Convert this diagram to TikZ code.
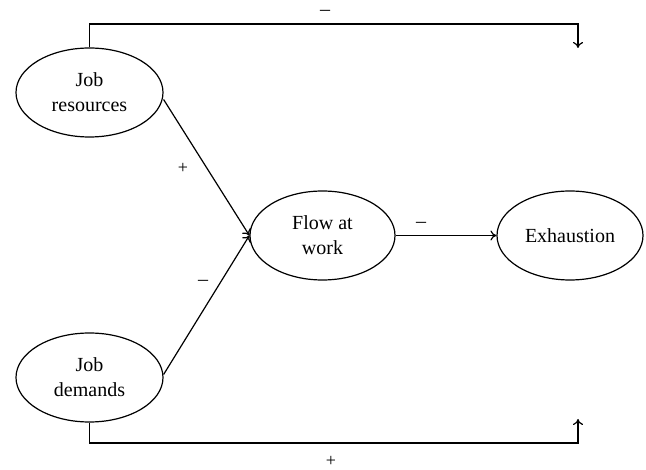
\documentclass[tikz,border=0pt]{standalone}
\usepackage{fontspec}
\setmainfont{Liberation Serif}
\usetikzlibrary{shapes.geometric,arrows.meta}
\begin{document}
\begin{tikzpicture}[x=1pt,y=-1pt,
  oval/.style={draw,ellipse,line width=1.2pt,minimum width=147pt,minimum height=89pt,inner sep=0pt,align=center,font=\fontsize{20}{25}\selectfont},
  conn/.style={line width=1.2pt},
  arr/.style={conn,-{To[length=6pt,width=10pt,line width=1.2pt]}},
  lbl/.style={inner sep=0pt,font=\fontsize{20}{20}\selectfont}]
\useasboundingbox (0,0) rectangle (646,470);
\node[oval] (jr) at (89.5,92.5) {Job\\resources};
\node[oval] (jd) at (89.5,377.5) {Job\\demands};
\node[oval,minimum width=145pt] (fw) at (322.5,235.5) {Flow at\\work};
\node[oval,minimum width=146pt] (ex) at (570,235.5) {Exhaustion};
\coordinate (tc) at (578,24);
\coordinate (te) at (578,48);
\coordinate (bc) at (578,443);
\coordinate (be) at (578,419);
\draw[arr] (jr.north) -- (jr.north |- tc) -- (tc) -- (te);
\draw[arr] (jd.south) -- (jd.south |- bc) -- (bc) -- (be);
\draw[arr] (jr.east) ++(0,7) coordinate (jrs) -- (fw.west);
\draw[arr] (jd.east) ++(0,-3) coordinate (jds) -- (fw.west);
\draw[arr] (fw.east) -- (ex.west);
\node[lbl] (l1) at (325,13) {\textendash};
\node[lbl,font=\fontsize{18}{18}\selectfont] (l2) at (331,461) {+};
\node[lbl,font=\fontsize{18}{18}\selectfont] (l3) at (183,168) {+};
\node[lbl] (l4) at (203,283) {\textendash};
\node[lbl] (l5) at (421,225) {\textendash};
\end{tikzpicture}
\end{document}
